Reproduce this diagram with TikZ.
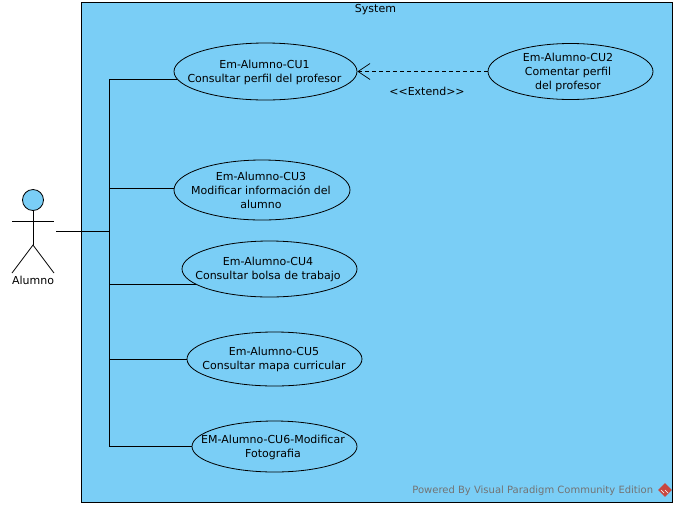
\documentclass[tikz,border=0pt]{standalone}
\usepackage{fontspec}
\setmainfont{DejaVu Sans}
\usetikzlibrary{arrows.meta,shapes.geometric}
\definecolor{sysblue}{HTML}{7ACEF6}
\definecolor{vpred}{HTML}{C8473F}
\tikzset{
  lbl/.style={inner sep=0pt,font=\fontsize{11}{14}\selectfont},
  usecase/.style={ellipse,draw=black,fill=sysblue,inner sep=0pt},
  cutext/.style={lbl,align=center},
  extendline/.style={line width=1pt,dash pattern=on 4pt off 3pt,-{Straight Barb[length=12pt,width=16pt,line width=0.7pt]}}
}
\begin{document}
\begin{tikzpicture}[x=1pt,y=-1pt,line width=0.8pt]
\useasboundingbox (0,0) rectangle (677,507);
%System
\node[draw=black,fill=sysblue,minimum width=591pt,minimum height=500pt,inner sep=0pt] (system) at (376.5,252) {};
\node[lbl] (systemlabel) at (375.5,9.5) {System};
%Use cases
\node[usecase,minimum width=183pt,minimum height=57pt] (cuA) at (265.5,71.5) {};
\node[cutext] (cuAtext) at (264.5,72) {Em-Alumno-CU1\\Consultar perfil del profesor};
\node[usecase,minimum width=165pt,minimum height=56pt] (cuB) at (570.5,71.5) {};
\node[cutext] (cuBtext) at (568,72.5) {Em-Alumno-CU2\\Comentar perfil\\del profesor};
\node[usecase,minimum width=176pt,minimum height=60pt] (cuC) at (262,190) {};
\node[cutext] (cuCtext) at (261,190.5) {Em-Alumno-CU3\\Modificar información del\\alumno};
\node[usecase,minimum width=175pt,minimum height=56pt] (cuD) at (269.5,269) {};
\node[cutext] (cuDtext) at (268,269.5) {Em-Alumno-CU4\\Consultar bolsa de trabajo};
\node[usecase,minimum width=175pt,minimum height=54pt] (cuE) at (274.5,359) {};
\node[cutext] (cuEtext) at (274,359.5) {Em-Alumno-CU5\\Consultar mapa curricular};
\node[usecase,minimum width=165pt,minimum height=51pt] (cuF) at (274.5,446.5) {};
\node[cutext] (cuFtext) at (273,447.5) {EM-Alumno-CU6-Modificar\\Fotografia};
%Actor
\node[circle,draw=black,fill=sysblue,minimum size=21pt,inner sep=0pt] (head) at (33,200) {};
\coordinate (armL) at (12,221);
\coordinate (armR) at (54,221);
\coordinate (hip) at (33,245);
\coordinate (footL) at (12,273);
\coordinate (footR) at (54,273);
\draw (armL) -- (armR);
\draw (head) -- (hip);
\draw (footL) -- (hip) -- (footR);
\node[lbl] (alumno) at (33,280) {Alumno};
%Connectors
\coordinate (actorend) at (56,231);
\coordinate (bus) at (109.5,231);
\draw (actorend) -- (bus);
\foreach \cu/\ang in {cuA/185,cuC/179.4,cuD/192.5,cuE/180,cuF/180.4}{
\draw (\cu.\ang) -| (bus);
}
\draw[extendline] (cuB) -- (cuA);
\node[lbl] (extend) at (427,91) {{<}{<}Extend{>}{>}};
%Watermark
\node[inner sep=0pt,anchor=east,text=black!55,font=\fontsize{10}{12}\selectfont] (powered) at (653.5,491) {Powered By Visual Paradigm Community Edition};
\node[diamond,fill=vpred,minimum size=14pt,inner sep=0pt] (logo) at (665,490) {};
\draw[white,line width=0.7pt] (logo.center) -- ++(3,3) (logo.center) ++(-4,0) -- ++(3,3);
\end{tikzpicture}
\end{document}
